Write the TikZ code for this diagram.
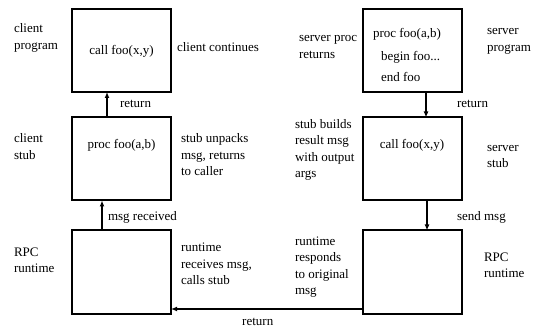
\documentclass[tikz,border=0pt]{standalone}
\usepackage{fontspec}
\setmainfont{Liberation Serif}
\usetikzlibrary{arrows.meta}
\begin{document}
\begin{tikzpicture}[x=1pt,y=-1pt,
  every node/.style={font=\fontsize{13}{16.5}\selectfont, inner sep=0pt, outer sep=0pt},
  procbox/.style={draw, line width=2pt, minimum width=99pt, minimum height=83pt},
  lbl/.style={anchor=west, align=left},
  arr/.style={line width=1.4pt, -{Latex[length=6pt,width=5pt]}}]
  \useasboundingbox (0,0) rectangle (537,328);

  % client column
  \node[procbox] (c1) at (121.5,50.5) {};
  \node[procbox] (c2) at (121.5,159) {};
  \node[procbox] (c3) at (121.5,272) {};
  % server column
  \node[procbox] (s1) at (412,50.5) {};
  \node[procbox] (s2) at (412,159) {};
  \node[procbox] (s3) at (412,272) {};

  % box contents
  \node (ct1) at (121.5,51) {call foo(x,y)};
  \node (ct2) at (121.5,145) {proc foo(a,b)};
  \node[lbl] (st1a) at (373,34) {proc foo(a,b)};
  \node[lbl] (st1b) at (381,57) {begin foo...};
  \node[lbl] (st1c) at (381,77) {end foo};
  \node (st2) at (412,145) {call foo(x,y)};

  % client side labels
  \node[lbl] (lcp) at (14,38) {client\\program};
  \node[lbl] (lcc) at (177,47) {client continues};
  \node[lbl] (lcs) at (14,146.5) {client\\stub};
  \node[lbl] (lsu) at (181,155) {stub unpacks\\msg, returns\\to caller};
  \node[lbl] (lrr) at (14,260.5) {RPC\\runtime};
  \node[lbl] (lrc) at (181,264) {runtime\\receives msg,\\calls stub};

  % server side labels
  \node[lbl] (lspr) at (299,47) {server proc\\returns};
  \node[lbl] (lsp) at (487,41.5) {server\\program};
  \node[lbl] (lsb) at (295,150) {stub builds\\result msg\\with output\\args};
  \node[lbl] (lss) at (487,156.5) {server\\stub};
  \node[lbl] (lrs) at (295,267) {runtime\\responds\\to original\\msg};
  \node[lbl] (lsr) at (484,265.5) {RPC\\runtime};

  % connectors
  \draw[arr] ([xshift=-14.5pt]c2.north) -- ([xshift=-14.5pt]c1.south)
    node[lbl, pos=0.55, xshift=13pt] (lret1) {return};
  \draw[arr] ([xshift=-19.5pt]c3.north) -- ([xshift=-19.5pt]c2.south)
    node[lbl, pos=0.45, xshift=6pt] (lmr) {msg received};
  \draw[arr] ([xshift=14pt]s1.south) -- ([xshift=14pt]s2.north)
    node[lbl, pos=0.45, xshift=31pt] (lret2) {return};
  \draw[arr] ([xshift=15pt]s2.south) -- ([xshift=15pt]s3.north)
    node[lbl, pos=0.55, xshift=30pt] (lsm) {send msg};
  \draw[arr] ([yshift=4.5pt]s3.south west) -- ([yshift=4.5pt]c3.south east)
    node[pos=0.547, yshift=-13pt] (lret3) {return};
\end{tikzpicture}
\end{document}
